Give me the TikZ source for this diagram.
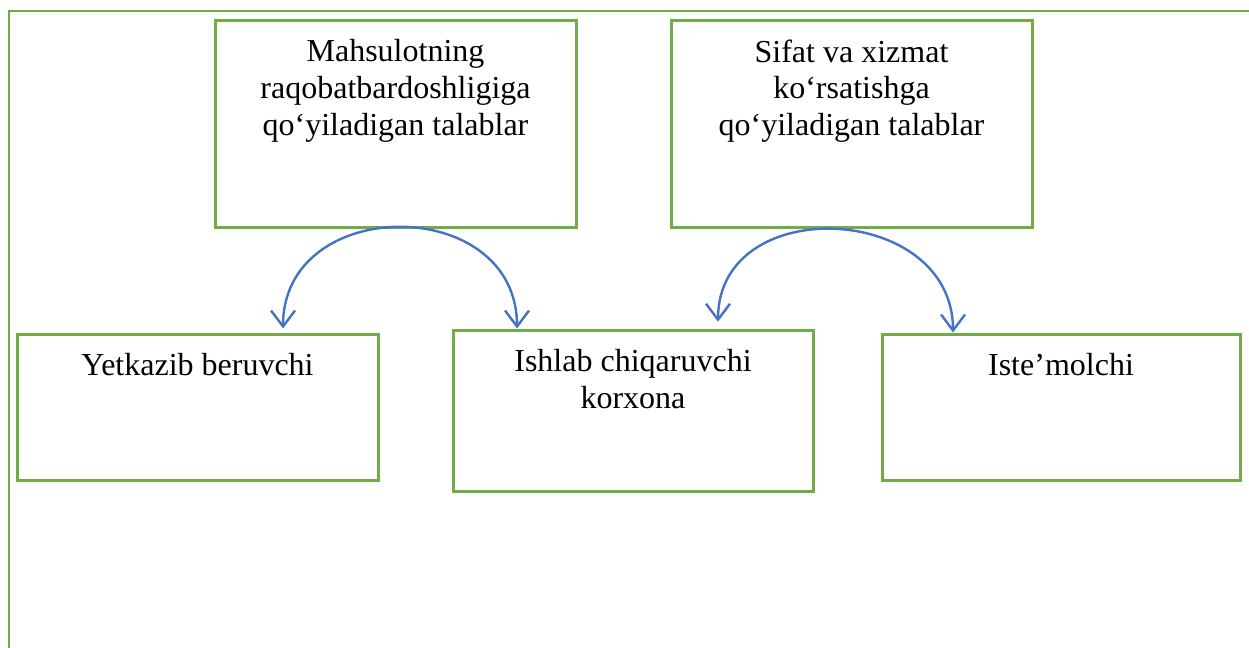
\documentclass[tikz,border=0pt]{standalone}
\usepackage{fontspec}
\setmainfont{Liberation Serif}
\usepackage{tikz}
\usetikzlibrary{positioning, arrows.meta}

\definecolor{boxgreen}{HTML}{70AD47}
\definecolor{arrowblue}{HTML}{4472C4}

\begin{document}
\begin{tikzpicture}[
        node distance=0.5cm and 0.1cm,
        every node/.style={font=\fontsize{16}{18.3}\selectfont},
        box/.style={draw=boxgreen, line width=1.5pt, rectangle, minimum width=180.5pt, inner sep=0pt},
        req/.style={box, minimum height=103.5pt},
        party/.style={box, minimum height=73pt},
        caption/.style={align=center, inner sep=0pt},
        link/.style={draw=arrowblue, line width=1.2pt, {Straight Barb[length=8pt,width=12pt]}-{Straight Barb[length=8pt,width=12pt]}},
        frame/.style={draw=boxgreen, line width=1.3pt}
    ]

    \useasboundingbox (0,0) rectangle (624.5pt,-324pt);

    % outer frame, cut by the page
    \draw[frame] (4.5pt,-340pt) |- (640pt,-5.5pt);

    \node[req] (product) at (197.75pt,-61.75pt) {};
    \node[req, right=46pt of product] (service) {};

    \node[party] (supplier) at (98.75pt,-203.5pt) {};
    \node[box, minimum width=180pt, minimum height=80.5pt] (producer) at (316.5pt,-205.25pt) {};
    \node[party, minimum width=179pt] (consumer) at (530.5pt,-203.5pt) {};

    \node[caption, below=10.4pt of product.north] (productText) {Mahsulotning\\ raqobatbardoshligiga\\ qo‘yiladigan talablar};
    \node[caption, below=10.4pt of service.north] (serviceText) {Sifat va xizmat\\ ko‘rsatishga\\ qo‘yiladigan talablar};
    \node[caption, below=10.4pt of supplier.north] (supplierText) {Yetkazib beruvchi};
    \node[caption, below=10.4pt of producer.north] (producerText) {Ishlab chiqaruvchi\\ korxona};
    \node[caption, below=10.4pt of consumer.north] (consumerText) {Iste’molchi};

    \draw[link] ([xshift=42.75pt, yshift=2pt]supplier.north) .. controls +(0,67.3pt) and +(0,67.3pt) .. ([xshift=-58pt]producer.north);
    \draw[link] ([xshift=42.5pt, yshift=3.4pt]producer.north) .. controls +(0,65pt) and +(0,65pt) .. ([xshift=-54pt]consumer.north);

\end{tikzpicture}
\end{document}
